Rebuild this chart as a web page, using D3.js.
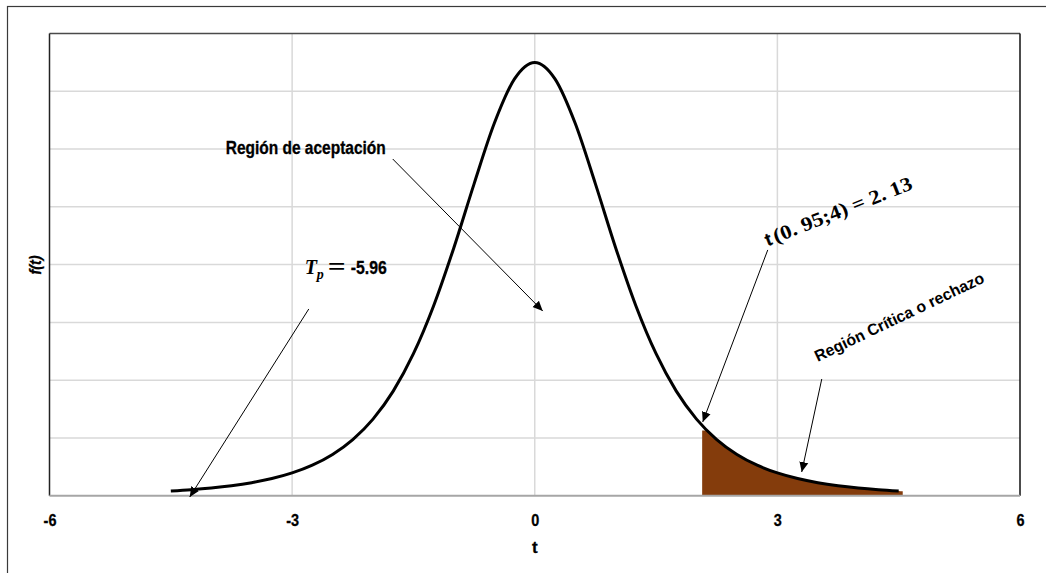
<!DOCTYPE html>
<html>
<head>
<meta charset="utf-8">
<script src="https://cdn.jsdelivr.net/npm/d3@7"></script>
<style>
  html, body { margin: 0; padding: 0; background: #fff; }
  svg { display: block; }
  .sans { font-family: "Liberation Sans Narrow", "Arial Narrow", "Liberation Sans", Arial, sans-serif; font-weight: bold; stroke: #000; stroke-width: 0.3; }
  .serif { font-family: "Liberation Serif", "DejaVu Serif", serif; font-weight: bold; }
</style>
</head>
<body>
<svg id="chart" width="1046" height="573"></svg>
<script>
// ---- Data (Student t density, 4 d.f.) ----
const tValues = [-4.5, -4.25, -4, -3.75, -3.5, -3.25, -3, -2.75, -2.5, -2.25, -2, -1.75, -1.5, -1.25, -1, -0.75, -0.5, -0.25,
                 0, 0.25, 0.5, 0.75, 1, 1.25, 1.5, 1.75, 2, 2.25, 2.5, 2.75, 3, 3.25, 3.5, 3.75, 4, 4.25, 4.5];
const fValues = [0.00414, 0.00525, 0.00671, 0.00865, 0.01128, 0.01483, 0.01969, 0.02640, 0.03567, 0.04854, 0.06629, 0.09052,
                 0.12288, 0.16444, 0.21466, 0.26989, 0.32226, 0.36074,
                 0.375, 0.36074, 0.32226, 0.26989, 0.21466, 0.16444, 0.12288, 0.09052, 0.06629, 0.04854, 0.03567, 0.02640,
                 0.01969, 0.01483, 0.01128, 0.00865, 0.00671, 0.00525, 0.00414];
// critical (rejection) region, shaded
const critT = [2.07, 2.13, 2.25, 2.5, 2.75, 3, 3.25, 3.5, 3.75, 4, 4.25, 4.5, 4.55];
const critF = [0.0564, 0.0564, 0.04854, 0.03567, 0.02640, 0.01969, 0.01483, 0.01128, 0.00865, 0.00671, 0.00525, 0.00414, 0.0039];
const xTicks = [-6, -3, 0, 3, 6];
const yGrid = [0, 0.05, 0.1, 0.15, 0.2, 0.25, 0.3, 0.35, 0.4];
const xGrid = [-3, 0, 3];
const xTitle = "t";
const yTitle = "f(t)";

// annotation arrows (data coordinates): [x1, y1, x2(tip), y2(tip)]
const arrows = [
  [-1.756, 0.2914, 0.099, 0.1598],
  [-2.794, 0.1616, -4.266, -0.0011],
  [2.881, 0.2127, 2.077, 0.0638],
  [3.549, 0.1010, 3.301, 0.0205]
];

// ---- Layout ----
const svg = d3.select("#chart");
const L = 49.5, R = 1020, T = 33.5, B = 495.7;
const x = d3.scaleLinear().domain([-6, 6]).range([L, R]);
const y = d3.scaleLinear().domain([0, 0.4]).range([B, T]);

svg.append("defs").append("marker")
  .attr("id", "arrow").attr("viewBox", "0 0 10 10")
  .attr("refX", 10).attr("refY", 5)
  .attr("markerWidth", 10).attr("markerHeight", 10)
  .attr("markerUnits", "userSpaceOnUse")
  .attr("orient", "auto")
  .append("path").attr("d", "M0,0.5 L10,5 L0,9.5 Z").attr("fill", "#000");

// outer frame
svg.append("rect").attr("x", 7.5).attr("y", 6.5).attr("width", 1100).attr("height", 600)
  .attr("fill", "none").attr("stroke", "#3a3a3a").attr("stroke-width", 1.2);

// gridlines
svg.append("g").selectAll("line").data(yGrid.slice(1, -1)).join("line")
  .attr("x1", L).attr("x2", R).attr("y1", d => y(d)).attr("y2", d => y(d))
  .attr("stroke", "#d9d9d9").attr("stroke-width", 1.5);
svg.append("g").selectAll("line").data(xGrid).join("line")
  .attr("x1", d => x(d)).attr("x2", d => x(d)).attr("y1", T).attr("y2", B)
  .attr("stroke", "#d9d9d9").attr("stroke-width", 1.5);

// plot border
svg.append("line").attr("x1", L).attr("x2", R).attr("y1", T).attr("y2", T).attr("stroke", "#4a4a4a").attr("stroke-width", 1.5);
svg.append("line").attr("x1", L).attr("x2", L).attr("y1", T).attr("y2", B).attr("stroke", "#222").attr("stroke-width", 1.5);
svg.append("line").attr("x1", R).attr("x2", R).attr("y1", T).attr("y2", B).attr("stroke", "#111").attr("stroke-width", 1.5);

// shaded critical region
const critData = critT.map((t, i) => [t, critF[i]]);
svg.append("path").datum(critData)
  .attr("d", d3.area().x(d => x(d[0])).y0(y(0)).y1(d => y(d[1])).curve(d3.curveMonotoneX))
  .attr("fill", "#843C0C");

// x axis baseline
svg.append("line").attr("x1", L).attr("x2", R).attr("y1", B).attr("y2", B).attr("stroke", "#a6a6a6").attr("stroke-width", 2);

// density curve
const curveData = tValues.map((t, i) => [t, fValues[i]]);
svg.append("path").datum(curveData)
  .attr("d", d3.line().x(d => x(d[0])).y(d => y(d[1])).curve(d3.curveMonotoneX))
  .attr("fill", "none").attr("stroke", "#000").attr("stroke-width", 3);

// narrow-font helper: compress text horizontally to mimic a condensed face
function narrow(sel, k) {
  sel.each(function () {
    const w = this.getComputedTextLength();
    d3.select(this).attr("textLength", w * k).attr("lengthAdjust", "spacingAndGlyphs");
  });
}

// x axis tick labels
const xAxis = d3.axisBottom(x).tickValues(xTicks).tickSize(0).tickPadding(0).tickFormat(d => String(d));
const gx = svg.append("g").attr("transform", `translate(0,${B})`).call(xAxis);
gx.select(".domain").remove();
gx.selectAll("text").attr("class", "sans").attr("font-size", 17).attr("fill", "#000")
  .attr("dy", null).attr("y", 30.5).call(narrow, 0.85);

// axis titles
svg.append("text").attr("class", "sans").attr("x", x(0)).attr("y", 553).attr("text-anchor", "middle")
  .attr("font-size", 17).text(xTitle);
svg.append("text").attr("class", "sans").attr("font-style", "italic").attr("font-size", 16)
  .attr("text-anchor", "middle").attr("transform", "translate(41,265) rotate(-90)").text(yTitle)
  .call(narrow, 0.9);

// arrows
svg.append("g").selectAll("line").data(arrows).join("line")
  .attr("x1", d => x(d[0])).attr("y1", d => y(d[1])).attr("x2", d => x(d[2])).attr("y2", d => y(d[3]))
  .attr("stroke", "#000").attr("stroke-width", 1).attr("marker-end", "url(#arrow)");

// annotation: Región de aceptación
svg.append("text").attr("class", "sans").attr("font-size", 18)
  .attr("x", x(-3.821)).attr("y", y(0.2956))
  .attr("textLength", 160).attr("lengthAdjust", "spacingAndGlyphs")
  .text("Región de aceptación");

// annotation: T_p = -5.96
const tpX = x(-2.844), tpY = y(0.1919);
const tp = svg.append("g");
tp.append("text").attr("class", "serif").attr("font-style", "italic").attr("font-size", 20)
  .attr("x", tpX).attr("y", tpY).text("T");
tp.append("text").attr("class", "serif").attr("font-style", "italic").attr("font-size", 14)
  .attr("x", tpX + 12).attr("y", tpY + 5).text("p");
tp.append("text").attr("class", "serif").attr("font-size", 26)
  .attr("x", tpX + 23).attr("y", tpY + 1).attr("textLength", 18).attr("lengthAdjust", "spacingAndGlyphs").text("=");
tp.append("text").attr("class", "sans").attr("font-size", 18)
  .attr("x", tpX + 46).attr("y", tpY).attr("textLength", 36).attr("lengthAdjust", "spacingAndGlyphs").text("-5.96");

// annotation: t(0.95;4) = 2.13 (rotated)
const tcX = x(2.881), tcY = y(0.2159);
const tc = svg.append("g").attr("transform", `translate(${tcX},${tcY}) rotate(-21.5)`);
tc.append("text").attr("class", "sans").attr("font-size", 18).attr("x", 0).attr("y", 0).text("t");
tc.append("text").attr("class", "serif").attr("font-size", 20).attr("x", 9).attr("y", 0)
  .attr("textLength", 148).attr("lengthAdjust", "spacingAndGlyphs")
  .text("(0. 95;4) = 2. 13");

// annotation: Región Crítica o rechazo (rotated)
svg.append("text").attr("font-family", "'Liberation Sans', Arial, sans-serif").attr("font-weight", "bold")
  .attr("font-size", 16)
  .attr("transform", `translate(${x(3.499)},${y(0.1158)}) rotate(-25.5)`)
  .attr("textLength", 186).attr("lengthAdjust", "spacingAndGlyphs")
  .text("Región Crítica o rechazo");
</script>
</body>
</html>
